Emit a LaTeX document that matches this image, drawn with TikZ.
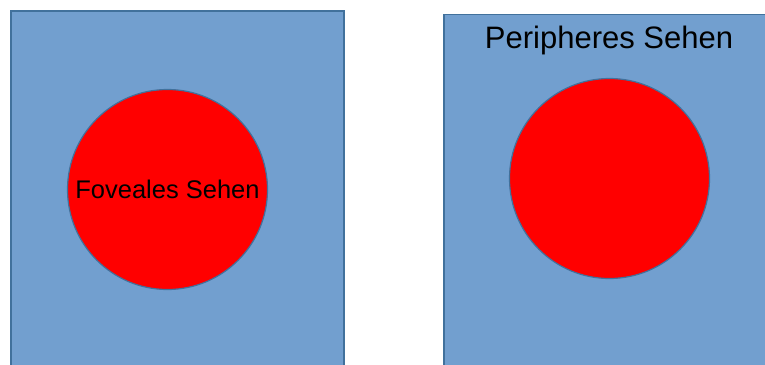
\documentclass[tikz,border=0pt]{standalone}
\usepackage{fontspec}
\setmainfont{Liberation Sans}
\usetikzlibrary{positioning}
\definecolor{fieldblue}{HTML}{729FCF}
\definecolor{edgeblue}{HTML}{41719C}
\definecolor{focusred}{HTML}{FF0000}
\tikzset{
  field/.style={draw=edgeblue, fill=fieldblue, line width=1.5pt, inner sep=0pt, anchor=north west},
  focus/.style={draw=edgeblue, fill=focusred, circle, line width=1.2pt, inner sep=0pt, minimum size=200pt, font=\fontsize{25.5}{30}\selectfont},
  fieldtext/.style={inner sep=0pt, anchor=base, font=\fontsize{31}{36}\selectfont}
}

\begin{document}
\begin{tikzpicture}[x=1pt, y=-1pt]
  \clip (0,0) rectangle (765,364);

  \node[field, minimum width=333pt, minimum height=370pt] (fovealField) at (10,10) {};
  \node[focus] (foveal) at (167.5,189.5) {Foveales Sehen};

  \node[field, minimum width=347pt, minimum height=367pt] (periField) at (443,13.5) {};
  \node[fieldtext] (periText) at (609,48) {Peripheres Sehen};
  \node[focus] (peri) at (609.5,178.5) {};
\end{tikzpicture}
\end{document}
